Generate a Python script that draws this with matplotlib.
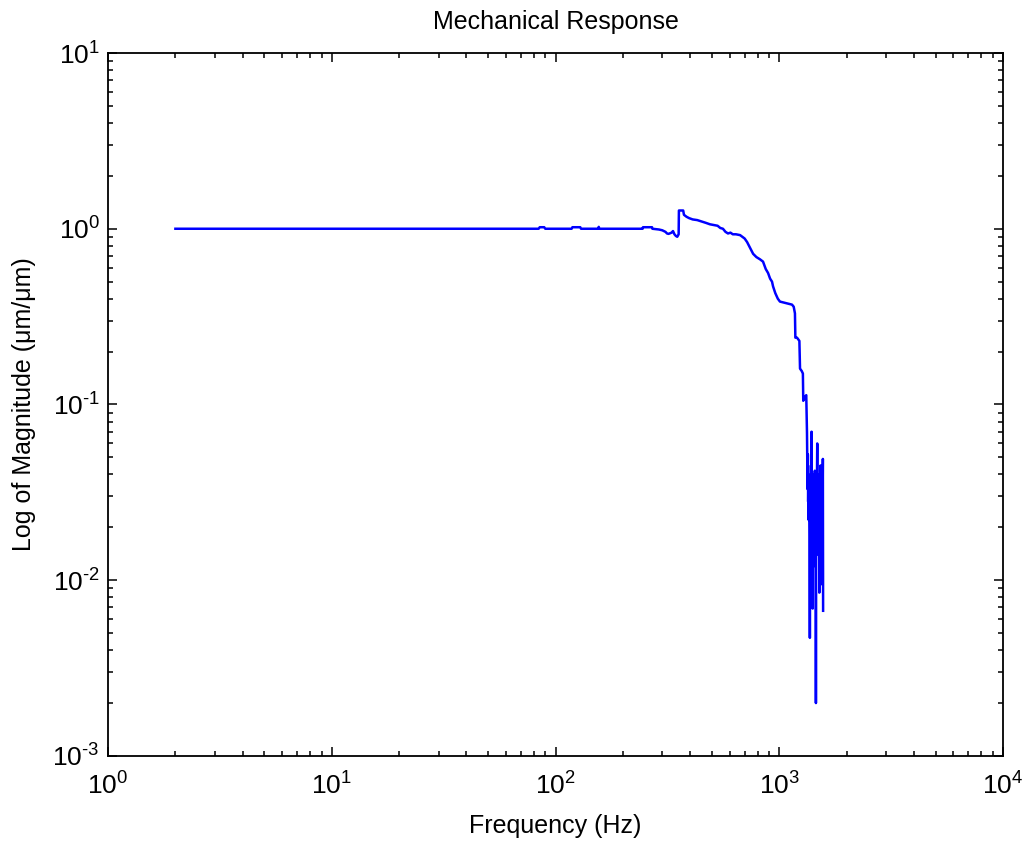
import matplotlib
matplotlib.use('Agg')
import matplotlib.pyplot as plt
from matplotlib.ticker import FuncFormatter
import math

# 字型設定
plt.rcParams['font.family'] = ['Liberation Sans', 'DejaVu Sans']
plt.rcParams['mathtext.fontset'] = 'custom'
plt.rcParams['mathtext.rm'] = 'Liberation Sans'
plt.rcParams['mathtext.default'] = 'regular'
plt.rcParams['axes.unicode_minus'] = False

# flat band + roll-off (Hz, um/um)
freq_main = [2, 84, 85, 89, 90, 118, 119, 129, 130, 155, 156, 157, 245, 246, 270, 271,
             290, 300, 310, 315, 320, 330, 335, 340, 345, 350, 355, 356, 372, 375, 385,
             395, 410, 430, 450, 470, 490, 510, 530, 545, 560, 575, 590, 605, 620, 640,
             668, 700, 718, 740, 764, 790, 820, 846, 870, 891, 910, 928, 938, 960, 985,
             1007, 1050, 1100, 1140, 1160, 1175, 1180, 1200, 1230, 1238, 1260, 1275,
             1280, 1300, 1320]
mag_main = [1.0, 1.0, 1.02, 1.02, 1.0, 1.0, 1.02, 1.02, 1.0, 1.0, 1.025, 1.0, 1.0, 1.02, 1.02, 1.0,
            0.99, 0.98, 0.96, 0.94, 0.935, 0.95, 0.97, 0.93, 0.91, 0.90, 0.93, 1.27, 1.27, 1.2, 1.17,
            1.15, 1.13, 1.12, 1.10, 1.08, 1.06, 1.05, 1.04, 1.01, 1.0, 0.96, 0.94, 0.95, 0.93, 0.93,
            0.92, 0.88, 0.84, 0.78, 0.72, 0.69, 0.67, 0.65, 0.59, 0.56, 0.52, 0.50, 0.47, 0.43, 0.40,
            0.385, 0.38, 0.375, 0.37, 0.36, 0.33, 0.24, 0.24, 0.23, 0.16, 0.155, 0.15,
            0.105, 0.11, 0.113]

# noisy part above resonance
freq_noise = [1330, 1334, 1338, 1342, 1346, 1350, 1354, 1358, 1362, 1366, 1370, 1374, 1378,
              1382, 1386, 1390, 1394, 1398, 1402, 1406, 1410, 1414, 1418, 1422, 1426, 1430,
              1434, 1438, 1442, 1446, 1450, 1454, 1458, 1462, 1466, 1470, 1474, 1478, 1482,
              1486, 1490, 1494, 1498, 1502, 1506, 1510, 1514, 1518, 1522, 1526, 1530, 1534,
              1538, 1542, 1546, 1550, 1554, 1558, 1562, 1566, 1570]
mag_noise = [0.069, 0.045, 0.033, 0.052, 0.028, 0.040, 0.022, 0.035, 0.030, 0.018, 0.0047, 0.026, 0.038,
             0.021, 0.045, 0.030, 0.070, 0.024, 0.036, 0.015, 0.0069, 0.031, 0.040, 0.019, 0.028, 0.036,
             0.016, 0.025, 0.042, 0.022, 0.012, 0.030, 0.0020, 0.027, 0.034, 0.017, 0.038, 0.060, 0.021,
             0.032, 0.014, 0.026, 0.040, 0.019, 0.030, 0.0085, 0.024, 0.036, 0.016, 0.029, 0.045, 0.020,
             0.011, 0.027, 0.0095, 0.022, 0.034, 0.018, 0.028, 0.049, 0.0067]

freq = freq_main + freq_noise
mag = mag_main + mag_noise


def pow10(v, pos):
    # 10^n 標籤, 指數用一般減號
    n = int(round(math.log10(v)))
    return r'$10^{\text{%d}}$' % n


fig = plt.figure(figsize=(10.28, 8.44), dpi=100)
ax = fig.add_axes([0.1051, 0.1043, 0.8706, 0.8329])

ax.loglog(freq, mag, color=(0, 0, 1), linewidth=1.8)

ax.set_xlim(1, 1e4)
ax.set_ylim(1e-3, 1e1)
ax.xaxis.set_major_formatter(FuncFormatter(pow10))
ax.yaxis.set_major_formatter(FuncFormatter(pow10))

ax.set_title('Mechanical Response', fontsize=18, pad=17)
ax.set_xlabel('Frequency (Hz)', fontsize=18, labelpad=10)
ax.set_ylabel('Log of Magnitude (μm/μm)', fontsize=18, labelpad=12)

for s in ax.spines.values():
    s.set_linewidth(1.3)
ax.tick_params(which='both', direction='in', top=True, right=True, labelsize=19, width=1.1)
ax.tick_params(which='major', length=6.5)
ax.tick_params(axis='x', which='major', pad=12)
ax.tick_params(axis='y', which='major', pad=6)
ax.tick_params(which='minor', length=3.6)

fig.savefig('out.png', dpi=100, facecolor='white')
